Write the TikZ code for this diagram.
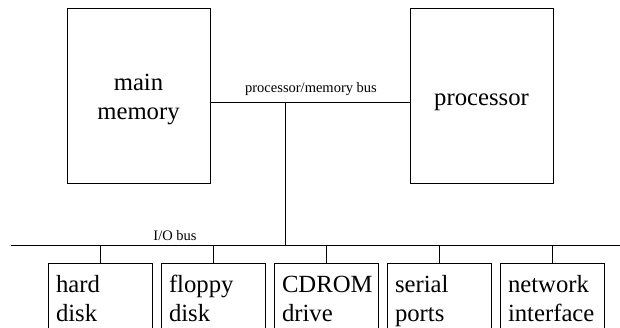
\documentclass[tikz,border=0pt]{standalone}
\usepackage{fontspec}
\setmainfont{Liberation Serif}
\usetikzlibrary{positioning}
\begin{document}
\begin{tikzpicture}[x=1pt,y=-1pt,line width=0.8pt,
    unit/.style={draw, rectangle, minimum width=143pt, minimum height=175pt, inner sep=0pt, align=center, font=\fontsize{24.7}{29.5}\selectfont},
    device/.style={draw, rectangle, anchor=north, text width=88pt, inner xsep=8pt, inner ysep=0pt, minimum height=80pt, align=left, text height=18pt, text depth=40pt, font=\fontsize{24.7}{29.5}\selectfont},
    buslabel/.style={anchor=base, inner sep=0pt, font=\fontsize{14.5}{17}\selectfont}]
          \useasboundingbox (0,0) rectangle (620,328);
          \node[unit, text height=52pt, text depth=3pt] at (138.5,95.5) (mem) {main\\memory};
          \node[unit, text height=24pt, text depth=3pt] at (481.5,95.5) (cpu) {processor};
          \coordinate (pm) at (285,102);
          \coordinate (ioL) at (11,245);
          \coordinate (ioR) at (620,245);
          \node[buslabel] at (311,93) (pmbus) {processor/memory bus};
          \node[buslabel] at (175,241) (iobus) {I/O bus};
          \node[device] at (100,263) (hd) {hard\\disk};
          \node[device, right=8.2pt of hd] (fd) {floppy\\disk};
          \node[device, right=8.2pt of fd] (cd) {CDROM\\drive};
          \node[device, right=8.2pt of cd] (sp) {serial\\ports};
          \node[device, right=8.2pt of sp] (ni) {network\\interface};
          \draw (mem.east |- pm) -- (cpu.west |- pm);
          \draw (pm) -- (pm |- ioL);
          \draw (ioL) -- (ioR);
          \foreach \d in {hd,fd,cd,sp,ni}
            \draw (\d.north) -- (\d.north |- ioL);
        \end{tikzpicture}
\end{document}
